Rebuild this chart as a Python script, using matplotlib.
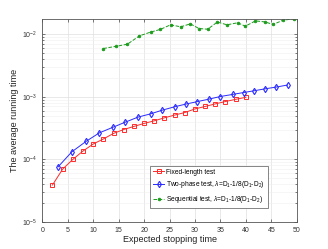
import numpy as np
import matplotlib
matplotlib.use("Agg")
import matplotlib.pyplot as plt

plt.rcParams['font.family'] = ['Liberation Sans', 'DejaVu Sans']
plt.rcParams['mathtext.fontset'] = 'custom'
plt.rcParams['mathtext.rm'] = 'Liberation Sans'
plt.rcParams['mathtext.it'] = 'Liberation Sans:italic'

# fixed-length test
x_fixed = [2, 4, 6, 8, 10, 12, 14, 16, 18, 20, 22, 24, 26, 28, 30, 32, 34, 36, 38, 40]
t_fixed = [3.9e-5, 7.0e-5, 1.0e-4, 1.36e-4, 1.76e-4, 2.12e-4, 2.6e-4, 3.0e-4, 3.36e-4, 3.75e-4,
           4.13e-4, 4.61e-4, 5.1e-4, 5.6e-4, 6.4e-4, 7.0e-4, 7.7e-4, 8.4e-4, 9.1e-4, 9.8e-4]

# two-phase test
x_two = [3.1, 5.8, 8.6, 11.2, 13.8, 16.3, 18.8, 21.3, 23.6, 26.0,
         28.2, 30.5, 32.8, 35.0, 37.4, 39.6, 41.7, 43.8, 46.0, 48.2]
t_two = [7.6e-5, 1.32e-4, 1.94e-4, 2.65e-4, 3.24e-4, 3.93e-4, 4.73e-4, 5.34e-4, 6.12e-4, 6.92e-4,
         7.64e-4, 8.38e-4, 9.19e-4, 1.01e-3, 1.09e-3, 1.17e-3, 1.25e-3, 1.34e-3, 1.43e-3, 1.54e-3]

# sequential test
x_seq = [12.0, 14.5, 16.7, 19.1, 21.3, 23.2, 25.2, 27.2, 29.1, 30.8,
         32.5, 34.4, 36.3, 38.4, 39.9, 41.9, 43.7, 45.4, 47.3, 49.5]
t_seq = [5.9e-3, 6.4e-3, 6.9e-3, 9.4e-3, 1.08e-2, 1.19e-2, 1.41e-2, 1.31e-2, 1.46e-2, 1.23e-2,
         1.20e-2, 1.56e-2, 1.41e-2, 1.52e-2, 1.34e-2, 1.63e-2, 1.57e-2, 1.43e-2, 1.67e-2, 1.76e-2]

lab_fixed = 'Fixed-length test'
lab_two = r'Two-phase test, $\lambda$=D$_1$-1/8(D$_1$-D$_2$)'
lab_seq = r'Sequential test, $\lambda$=D$_1$-1/8(D$_1$-D$_2$)'

fig = plt.figure(figsize=(3.28, 2.49), dpi=100)
ax = fig.add_axes([0.129, 0.1084, 0.7756, 0.8173])

ax.semilogy(x_fixed, t_fixed, '-s', color='#ff2a2a', lw=0.7, ms=2.8, mfc='none', mew=0.7, label=lab_fixed)
ax.semilogy(x_two, t_two, '-d', color='#2a2aff', lw=0.7, ms=3.2, mfc='none', mew=0.8, label=lab_two)
ax.semilogy(x_seq, t_seq, '--o', color='#1a9a1a', lw=0.7, ms=2.0, mfc='#1a9a1a', mew=0.5, label=lab_seq)

ax.set_xlim(0, 50)
ax.set_ylim(1e-5, 10 ** -1.75)
ax.set_xticks([0, 5, 10, 15, 20, 25, 30, 35, 40, 45, 50])
ax.set_yticks([1e-5, 1e-4, 1e-3, 1e-2])

ax.grid(True, which='major', color='#e0e0e0', lw=0.5)
ax.grid(True, which='minor', axis='y', color='#efefef', lw=0.4)
ax.set_axisbelow(True)
ax.tick_params(which='both', direction='in', top=True, right=True, labelsize=5,
               color='#444444', labelcolor='#333333', width=0.5)
ax.tick_params(which='major', length=2.5)
ax.tick_params(which='minor', length=1.5)
ax.tick_params(axis='x', which='minor', top=False, bottom=False)
for s in ax.spines.values():
    s.set_linewidth(0.6)
    s.set_color('#555555')

ax.set_xlabel('Expected stopping time', fontsize=6.5, labelpad=1, color='#222222')
ax.set_ylabel('The average running time', fontsize=6.5, labelpad=2, color='#222222')

leg = ax.legend(loc='lower right', bbox_to_anchor=(0.886, 0.07), fontsize=4.8, fancybox=False,
                edgecolor='#555555', framealpha=1, handlelength=1.7, borderpad=0.4, labelspacing=0.55,
                handletextpad=0.3, borderaxespad=0)
leg.get_frame().set_linewidth(0.5)

fig.savefig('out.png', dpi=100)
